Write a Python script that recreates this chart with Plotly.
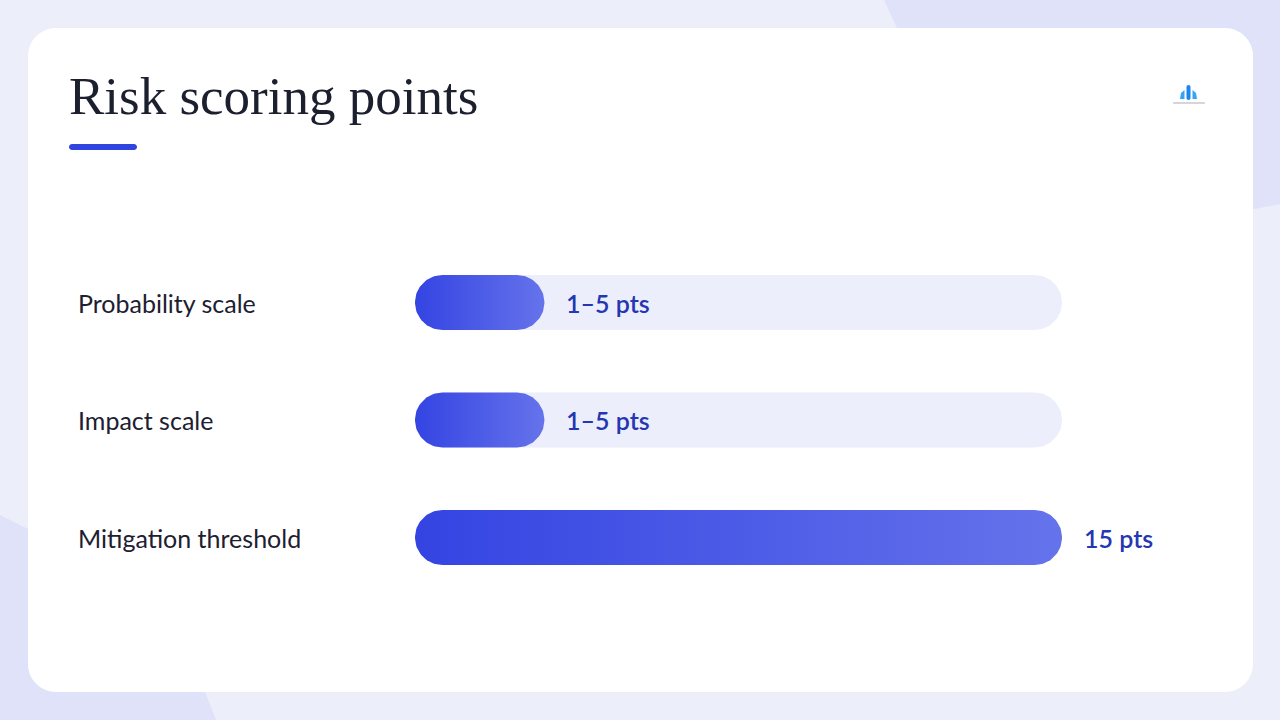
import numpy as np
import plotly.graph_objects as go

W, H = 1280, 720

# ---------------- data ----------------
categories = ["Probability scale", "Impact scale", "Mitigation threshold"]
bar_values = [3, 3, 15]          # bar length shown (midpoint of 1–5 range, threshold 15)
value_labels = ["1–5 pts", "1–5 pts", "15 pts"]
scale_max = 15
title_text = "Risk scoring points"

# ---------------- layout constants (pixels) ----------------
PLOT_L, PLOT_R = 415, 1062
ROW0, ROW_STEP = 302.5, 117.5
BAR_H = 55

TRACK_COLOR = "#eceefb"
GRAD_LEFT, GRAD_RIGHT = "#3444e2", "#6573eb"
LABEL_COLOR = "#1c2030"
VALUE_COLOR = "#2536b3"


def px(x):
    return x / W


def py(y):
    return 1 - y / H


n = len(categories)
y_top_px = ROW0 - ROW_STEP * 0.5
y_bot_px = ROW0 + ROW_STEP * (n - 0.5)

x_per_px = scale_max / (PLOT_R - PLOT_L)
y_per_px = 1.0 / ROW_STEP
rx = BAR_H / 2 * x_per_px
ry = BAR_H / 2 * y_per_px


def pill(x0, x1, yc):
    t = np.linspace(-np.pi / 2, np.pi / 2, 48)
    xr = (x1 - rx) + rx * np.cos(t)
    yr = yc + ry * np.sin(t)
    t2 = np.linspace(np.pi / 2, 3 * np.pi / 2, 48)
    xl = (x0 + rx) + rx * np.cos(t2)
    yl = yc + ry * np.sin(t2)
    return np.concatenate([xr, xl, xr[:1]]), np.concatenate([yr, yl, yr[:1]])


def rrect_path(x0, y0, x1, y1, r):
    k = 0.5523 * r
    pts = [
        ("M", [(x0 + r, y0)]),
        ("L", [(x1 - r, y0)]),
        ("C", [(x1 - r + k, y0), (x1, y0 + r - k), (x1, y0 + r)]),
        ("L", [(x1, y1 - r)]),
        ("C", [(x1, y1 - r + k), (x1 - r + k, y1), (x1 - r, y1)]),
        ("L", [(x0 + r, y1)]),
        ("C", [(x0 + r - k, y1), (x0, y1 - r + k), (x0, y1 - r)]),
        ("L", [(x0, y0 + r)]),
        ("C", [(x0, y0 + r - k), (x0 + r - k, y0), (x0 + r, y0)]),
    ]
    s = ""
    for cmd, ps in pts:
        s += cmd + " " + " ".join(f"{px(a):.5f},{py(b):.5f}" for a, b in ps) + " "
    return s + "Z"


def poly_path(points):
    return "M " + " L ".join(f"{px(a):.5f},{py(b):.5f}" for a, b in points) + " Z"


fig = go.Figure()

# tracks
for i in range(n):
    xs, ys = pill(0, scale_max, i)
    fig.add_trace(go.Scatter(x=xs, y=ys, mode="lines", fill="toself",
                             fillcolor=TRACK_COLOR, line=dict(width=0, color=TRACK_COLOR),
                             hoverinfo="skip", showlegend=False))

# value bars with gradient
for i, v in enumerate(bar_values):
    xs, ys = pill(0, v, i)
    fig.add_trace(go.Scatter(x=xs, y=ys, mode="lines", fill="toself",
                             fillgradient=dict(type="horizontal",
                                               colorscale=[[0, GRAD_LEFT], [1, GRAD_RIGHT]]),
                             line=dict(width=0, color=GRAD_LEFT),
                             hoverinfo="skip", showlegend=False))

annotations = []
for i, (cat, v, lab) in enumerate(zip(categories, bar_values, value_labels)):
    annotations.append(dict(xref="paper", yref="y", x=px(76), y=i, text=cat,
                            showarrow=False, xanchor="left", yanchor="middle",
                            font=dict(family="Lato", size=25, color=LABEL_COLOR)))
    annotations.append(dict(xref="x", yref="y", x=v, y=i, xshift=20, text=lab,
                            showarrow=False, xanchor="left", yanchor="middle",
                            font=dict(family="Lato", size=25, color=VALUE_COLOR, weight=600)))

annotations.append(dict(xref="paper", yref="paper", x=px(67), y=py(96), text=title_text,
                        showarrow=False, xanchor="left", yanchor="middle",
                        font=dict(family="Liberation Serif", size=53, color="#1b1f2e")))

shapes = [
    # background blobs
    dict(type="path", xref="paper", yref="paper", layer="below",
         path=poly_path([(884, 0), (1280, 0), (1280, 204), (1000, 260), (905, 45)]),
         fillcolor="#dfe2f8", line=dict(width=0)),
    dict(type="path", xref="paper", yref="paper", layer="below",
         path=poly_path([(0, 515), (60, 545), (150, 600), (205, 692), (216, 720), (0, 720)]),
         fillcolor="#dfe2f8", line=dict(width=0)),
    # card
    dict(type="path", xref="paper", yref="paper", layer="below",
         path=rrect_path(28, 28, 1253, 692, 28),
         fillcolor="#ffffff", line=dict(width=0)),
    # title underline
    dict(type="path", xref="paper", yref="paper", layer="below",
         path=rrect_path(69, 144, 137, 150, 3),
         fillcolor="#3044e0", line=dict(width=0)),
    # logo icon
    dict(type="path", xref="paper", yref="paper", layer="above",
         path=rrect_path(1186.5, 85, 1190.5, 100, 2),
         fillcolor="#1d86ee", line=dict(width=0)),
    dict(type="path", xref="paper", yref="paper", layer="above",
         path=poly_path([(1184.5, 90), (1181, 93), (1180, 99), (1184.5, 99)]),
         fillcolor="#35a4f5", line=dict(width=0)),
    dict(type="path", xref="paper", yref="paper", layer="above",
         path=poly_path([(1192.5, 90), (1196, 93), (1197, 99), (1192.5, 99)]),
         fillcolor="#35a4f5", line=dict(width=0)),
    dict(type="path", xref="paper", yref="paper", layer="above",
         path=rrect_path(1173, 102, 1205, 104, 1),
         fillcolor="#d4d6de", line=dict(width=0)),
]

fig.update_layout(
    width=W, height=H,
    margin=dict(l=0, r=0, t=0, b=0),
    paper_bgcolor="#eceefa",
    plot_bgcolor="rgba(0,0,0,0)",
    xaxis=dict(domain=[px(PLOT_L), px(PLOT_R)], range=[0, scale_max], visible=False,
               fixedrange=True),
    yaxis=dict(domain=[py(y_bot_px), py(y_top_px)], range=[n - 0.5, -0.5], visible=False,
               fixedrange=True),
    shapes=shapes,
    annotations=annotations,
    showlegend=False,
)

fig.write_html("out.html", config={"displayModeBar": False},
               post_script="document.body.style.margin='0';document.body.style.overflow='hidden';")
